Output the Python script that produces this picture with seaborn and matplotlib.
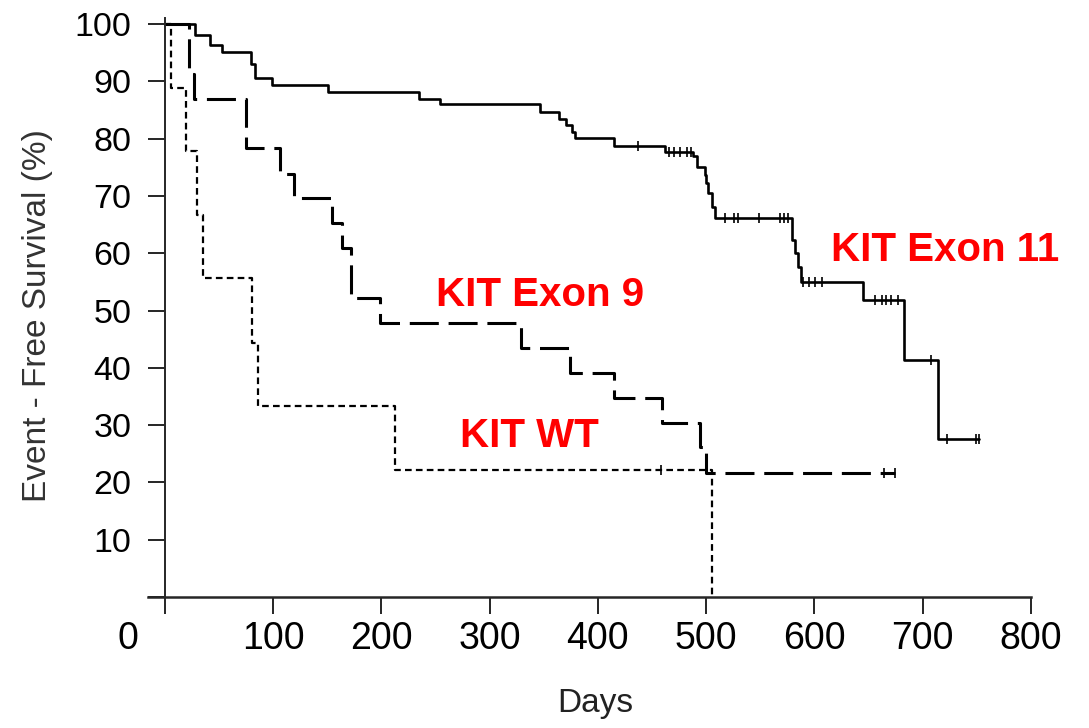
import numpy as np
import pandas as pd
import matplotlib
matplotlib.use('Agg')
import matplotlib.pyplot as plt
import matplotlib.transforms as mtransforms
import seaborn as sns

# Kaplan-Meier steps (days, % event-free)
ex11_t = [0, 28, 42, 53, 80, 83, 99, 151, 235, 254, 347, 364, 371, 376, 379, 415, 462,
          488, 492, 499, 500, 502, 505, 508, 579, 582, 585, 588, 645, 683, 714, 752]
ex11_s = [100, 98.0, 96.3, 95.2, 93.0, 90.5, 89.4, 88.2, 87.0, 86.0, 84.7, 83.5, 82.4, 81.2, 80.1, 78.7, 77.7,
          76.9, 75.1, 73.6, 72.2, 70.5, 68.1, 66.1, 62.3, 60.0, 57.6, 55.0, 51.8, 41.4, 27.6, 27.6]
ex11_cens_t = [437, 466, 470, 476, 482, 486, 517, 526, 529, 549, 568, 572, 576,
               589, 595, 601, 607, 656, 662, 666, 671, 677, 708, 722, 749, 752]
ex11_cens_s = [78.7, 77.7, 77.7, 77.7, 77.7, 77.7, 66.1, 66.1, 66.1, 66.1, 66.1, 66.1, 66.1,
               55.0, 55.0, 55.0, 55.0, 51.8, 51.8, 51.8, 51.8, 51.8, 41.4, 27.6, 27.6, 27.6]

ex9_t = [0, 22, 27, 75, 106, 119, 154, 164, 172, 199, 329, 374, 415, 459, 494, 500, 674]
ex9_s = [100, 91.3, 87.0, 78.3, 73.9, 69.6, 65.2, 60.9, 52.2, 47.8, 43.5, 39.1, 34.8, 30.4, 26.1, 21.7, 21.7]
ex9_cens_t = [664, 674]
ex9_cens_s = [21.7, 21.7]

wt_t = [0, 6, 20, 30, 35, 81, 86, 213, 505]
wt_s = [100, 88.9, 77.8, 66.7, 55.6, 44.4, 33.3, 22.2, 0]
wt_cens_t = [458]
wt_cens_s = [22.2]

x_ticks = [0, 100, 200, 300, 400, 500, 600, 700, 800]
y_ticks = [0, 10, 20, 30, 40, 50, 60, 70, 80, 90, 100]
y_labels = ['', '10', '20', '30', '40', '50', '60', '70', '80', '90', '100']

sns.set_style('ticks')
plt.rcParams['font.family'] = ['Liberation Sans', 'DejaVu Sans']

fig = plt.figure(figsize=(10.89, 7.28), dpi=100)
ax = fig.add_axes([0.1359, 0.17995, 0.8108, 0.7949])

ex11 = pd.DataFrame({'t': ex11_t, 's': ex11_s})
ex9 = pd.DataFrame({'t': ex9_t, 's': ex9_s})
wt = pd.DataFrame({'t': wt_t, 's': wt_s})

sns.lineplot(data=wt, x='t', y='s', ax=ax, estimator=None, sort=False, drawstyle='steps-post',
             color='black', linewidth=1.6, linestyle=(0, (3.0, 1.9)), legend=False)
sns.lineplot(data=ex9, x='t', y='s', ax=ax, estimator=None, sort=False, drawstyle='steps-post',
             color='black', linewidth=2.2, linestyle=(0, (9.5, 3.2)), legend=False)
sns.lineplot(data=ex11, x='t', y='s', ax=ax, estimator=None, sort=False, drawstyle='steps-post',
             color='black', linewidth=1.9, legend=False)

# censor marks
for ct, cs in [(ex11_cens_t, ex11_cens_s), (ex9_cens_t, ex9_cens_s), (wt_cens_t, wt_cens_s)]:
    sns.scatterplot(x=ct, y=cs, ax=ax, marker='|', s=60, color='black', linewidth=1.2, legend=False)

ax.set_xlim(-15.5, 800)
ax.set_ylim(0, 101)
ax.set_xticks(x_ticks)
ax.set_xticklabels([str(v) for v in x_ticks])
ax.set_yticks(y_ticks)
ax.set_yticklabels(y_labels)
ax.spines['left'].set_position(('data', 0))
ax.spines['top'].set_visible(False)
ax.spines['right'].set_visible(False)
ax.spines['left'].set_linewidth(1.4)
ax.spines['bottom'].set_linewidth(1.8)
ax.tick_params(axis='x', length=12, width=1.2, pad=5, labelsize=27, colors='black')
ax.tick_params(axis='y', length=12, width=1.2, pad=12, labelsize=24.5, colors='black')

# the "0" label sits left of the axis in the original
lbl0 = ax.get_xticklabels()[0]
lbl0.set_transform(lbl0.get_transform() + mtransforms.ScaledTranslation(-0.37, 0, fig.dpi_scale_trans))

ax.set_xlabel('Days', fontsize=24, color='#222222')
ax.xaxis.set_label_coords(0.507, -0.158)
ax.set_ylabel('Event - Free Survival (%)', fontsize=24, color='#333333')
ax.yaxis.set_label_coords(-0.108, 0.487)

ax.text(721, 60.6, 'KIT Exon 11', color='red', fontsize=29, fontweight='bold', ha='center', va='center')
ax.text(347, 52.7, 'KIT Exon 9', color='red', fontsize=29, fontweight='bold', ha='center', va='center')
ax.text(337, 28.1, 'KIT WT', color='red', fontsize=29, fontweight='bold', ha='center', va='center')

fig.savefig('out.png', dpi=100)
